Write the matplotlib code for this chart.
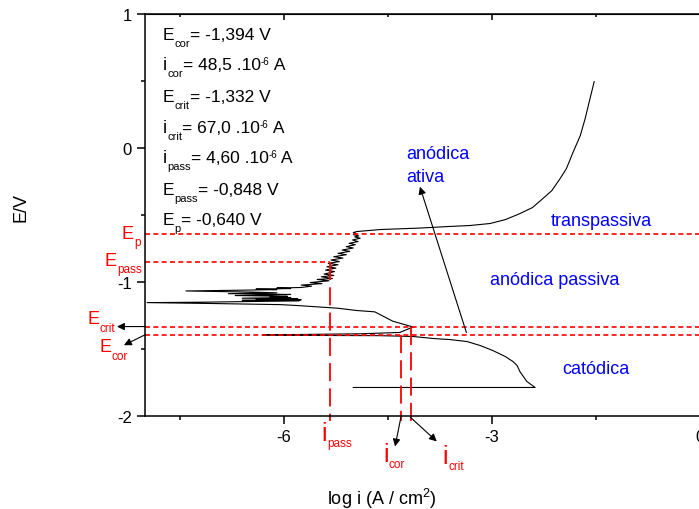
import matplotlib
matplotlib.use('Agg')
import matplotlib.pyplot as plt
import numpy as np

plt.rcParams['font.family'] = 'Liberation Sans'
plt.rcParams['mathtext.fontset'] = 'custom'
plt.rcParams['mathtext.rm'] = 'Liberation Sans'
plt.rcParams['axes.unicode_minus'] = False

# electrochemical parameters
E_cor = -1.394
i_cor = 48.5e-6
E_crit = -1.332
i_crit = 67.0e-6
i_pass = 4.60e-6
E_pass = -0.848
E_p = -0.640

# polarisation curve, log i (A/cm2) against E (V), in scan order
cath_logi = [-5.00, -2.38, -2.44, -2.50, -2.55, -2.60, -2.64, -2.70, -2.81, -2.99, -3.17,
             -3.36, -3.61, -3.85, -4.14, -4.61, -5.77, -6.31, -5.77, -4.90, -4.33, -4.14]
cath_E = [-1.787, -1.787, -1.765, -1.742, -1.705, -1.668, -1.623, -1.593, -1.556, -1.511, -1.474,
          -1.444, -1.429, -1.421, -1.406, -1.400, -1.398, -1.394, -1.391, -1.386, -1.376, -1.335]

act_logi = [-4.43, -4.69, -4.95, -5.22, -5.80, -6.05, -7.00, -7.97]
act_E = [-1.292, -1.222, -1.212, -1.195, -1.175, -1.168, -1.160, -1.153]

noise_logi = [-7.20, -6.50, -5.78, -6.60, -5.75, -6.40, -5.80, -6.60, -5.90, -6.20,
              -5.95, -6.70, -6.20, -5.90, -6.80, -6.10, -6.50, -7.41, -6.60, -6.10,
              -6.40, -5.90, -6.10, -5.75]
noise_E = [-1.150, -1.145, -1.140, -1.136, -1.132, -1.128, -1.124, -1.120, -1.115, -1.112,
           -1.106, -1.100, -1.096, -1.092, -1.086, -1.080, -1.074, -1.066, -1.060, -1.056,
           -1.052, -1.048, -1.044, -1.040]

pass_logi = [-5.60, -5.75, -5.45, -5.62, -5.35, -5.52, -5.30, -5.46, -5.28, -5.42,
             -5.27, -5.40, -5.25, -5.38, -5.22, -5.36, -5.20, -5.32, -5.15, -5.28,
             -5.10, -5.22, -5.05, -5.16, -5.00, -5.10, -4.97, -5.06, -4.93, -5.01,
             -4.90, -4.98, -4.92, -5.00, -4.96, -5.00, -4.95]
pass_E = [-1.030, -1.022, -1.011, -1.003, -0.990, -0.980, -0.973, -0.960, -0.950, -0.940,
          -0.921, -0.910, -0.895, -0.885, -0.870, -0.860, -0.846, -0.835, -0.820, -0.810,
          -0.795, -0.785, -0.770, -0.760, -0.745, -0.735, -0.720, -0.710, -0.697, -0.685,
          -0.672, -0.662, -0.655, -0.645, -0.637, -0.630, -0.622]

trans_logi = [-4.61, -4.04, -3.65, -3.32, -3.03, -2.81, -2.60, -2.42, -2.27, -2.14, -2.02,
              -1.93, -1.83, -1.73, -1.66, -1.59, -1.53]
trans_E = [-0.607, -0.596, -0.585, -0.577, -0.562, -0.533, -0.488, -0.443, -0.376, -0.316, -0.226,
           -0.152, -0.025, 0.095, 0.222, 0.371, 0.498]

log_i = np.concatenate([cath_logi, act_logi, noise_logi, pass_logi, trans_logi])
E = np.concatenate([cath_E, act_E, noise_E, pass_E, trans_E])

RED = '#ff0000'
BLUE = '#0000ff'


def rich(ax, x, y, parts, color='k'):
    # lay out (text, size, rise) pieces left to right from a data-space baseline
    prev = None
    for s, size, rise in parts:
        if prev is None:
            prev = ax.annotate(s, xy=(x, y), xycoords='data', xytext=(0, rise),
                               textcoords='offset points', fontsize=size, color=color,
                               ha='left', va='baseline', annotation_clip=False)
        else:
            prev = ax.annotate(s, xy=(1, y), xycoords=(prev, ax.transData), xytext=(0, rise),
                               textcoords='offset points', fontsize=size, color=color,
                               ha='left', va='baseline', annotation_clip=False)
    return prev


fig = plt.figure(figsize=(6.99, 5.10), dpi=100)
ax = fig.add_axes([0.2074, 0.1824, 0.7946, 0.7873])

ax.plot(log_i, E, color='k', lw=0.8)

# potential levels
hdash = dict(color=RED, lw=1.2, ls=(0, (3, 2)))
ax.axhline(E_p, **hdash)
ax.axhline(E_crit, **hdash)
ax.axhline(E_cor, **hdash)
ax.plot([-8, np.log10(i_pass)], [E_pass, E_pass], **hdash)

# current levels
vdash = dict(color=RED, lw=1.3, ls=(0, (10, 4)), clip_on=False)
for cur, pot in [(i_pass, E_pass), (i_cor, E_cor), (i_crit, E_crit)]:
    ax.plot([np.log10(cur)] * 2, [pot, -2.04], **vdash)

ax.set_xlim(-8, 0)
ax.set_ylim(-2, 1)
ax.set_xticks([-6, -3, 0])
ax.set_xticks([-7.5, -4.5, -1.5], minor=True)
ax.set_yticks([-2, -1, 0, 1])
ax.set_yticks([-1.5, -0.5, 0.5], minor=True)
ax.tick_params(which='major', direction='out', length=5.5, width=1.1, labelsize=12, pad=4)
ax.tick_params(which='minor', direction='out', length=3, width=1.1)
for sp in ax.spines.values():
    sp.set_linewidth(1.1)
top = ax.secondary_xaxis('top')
top.set_xticks([-6, -3, 0])
top.set_xticks([-7.5, -4.5, -1.5], minor=True)
top.tick_params(which='both', direction='in', labeltop=False, width=1.1)
top.tick_params(which='major', length=4)
top.tick_params(which='minor', length=2.5)

fig.text(21 / 699, 1 - 208 / 510, 'E/V', rotation=90, ha='center', va='center', fontsize=13)
fig.text(382 / 699, 0.0098, r'log i (A / cm$^{\mathregular{2}}$)', ha='center', va='baseline',
         fontsize=13)

# parameter list
box = [
    [('E', 12.5, 0), ('cor', 8, -5.5), ('= -1,394 V', 12.5, 0)],
    [('i', 13, 0), ('cor', 8, -5.5), ('= 48,5 .10', 12.5, 0), ('-6', 7, 3.6), (' A', 12.5, 0)],
    [('E', 12.5, 0), ('crit', 8, -5.5), ('= -1,332 V', 12.5, 0)],
    [('i', 13, 0), ('crit', 8, -5.5), ('= 67,0 .10', 12.5, 0), ('-6', 7, 3.6), (' A', 12.5, 0)],
    [('i', 13, 0), ('pass', 8, -5.5), ('= 4,60 .10', 12.5, 0), ('-6', 7, 3.6), (' A', 12.5, 0)],
    [('E', 12.5, 0), ('pass', 8, -5.5), ('= -0,848 V', 12.5, 0)],
    [('E', 12.5, 0), ('p', 8, -5.5), ('= -0,640 V', 12.5, 0)],
]
box_y = [0.819, 0.595, 0.356, 0.125, -0.099, -0.338, -0.562]
for parts, yb in zip(box, box_y):
    rich(ax, -7.74, yb, parts)

# region names
ax.text(-4.24, -0.040, 'anódica', color=BLUE, fontsize=13, va='center')
ax.text(-4.24, -0.211, 'ativa', color=BLUE, fontsize=13, va='center')
ax.text(-2.16, -0.54, 'transpassiva', color=BLUE, fontsize=13, va='center')
ax.text(-3.03, -0.98, 'anódica passiva', color=BLUE, fontsize=13, va='center')
ax.text(-1.99, -1.646, 'catódica', color=BLUE, fontsize=13, va='center')

arrow = dict(arrowstyle='-|>', color='k', lw=0.8, mutation_scale=11, shrinkA=0, shrinkB=0)
ax.annotate('', xy=(-4.04, -0.287), xytext=(-3.37, -1.377), arrowprops=arrow)

# potential labels on the left
rich(ax, -8.331, -0.667, [('E', 13, 0), ('p', 8.5, -5.5)], color=RED)
rich(ax, -8.576, -0.869, [('E', 13, 0), ('pass', 8.5, -5.5)], color=RED)
rich(ax, -8.821, -1.309, [('E', 13, 0), ('crit', 8.5, -5.5)], color=RED)
rich(ax, -8.648, -1.516, [('E', 13, 0), ('cor', 8.5, -5.5)], color=RED)
ax.annotate('', xy=(-8.403, E_crit), xytext=(-8, E_crit), arrowprops=arrow, annotation_clip=False)
ax.annotate('', xy=(-8.303, -1.471), xytext=(-8, E_cor), arrowprops=arrow, annotation_clip=False)

# current labels below the axis
rich(ax, -5.46, -2.183, [('i', 18, 0), ('pass', 8.5, -4)], color=RED)
rich(ax, -4.57, -2.340, [('i', 18, 0), ('cor', 8.5, -4)], color=RED)
rich(ax, -3.71, -2.355, [('i', 18, 0), ('crit', 8.5, -4)], color=RED)
ax.annotate('', xy=(-4.398, -2.228), xytext=(np.log10(i_cor), -2.011), arrowprops=arrow,
            annotation_clip=False)
ax.annotate('', xy=(-3.797, -2.190), xytext=(np.log10(i_crit), -2.011), arrowprops=arrow,
            annotation_clip=False)

fig.savefig('out.png', dpi=100)
